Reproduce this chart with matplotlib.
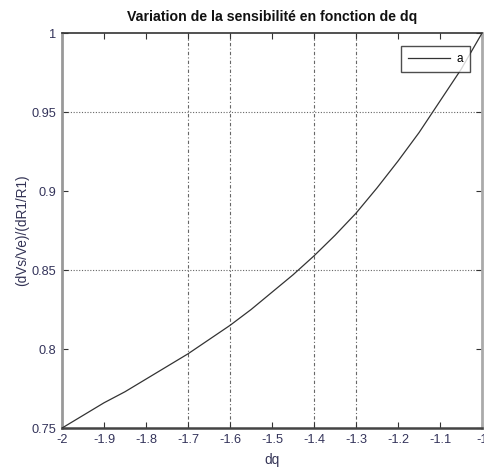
import matplotlib
matplotlib.use("Agg")
import matplotlib.pyplot as plt

dq = [-2.0, -1.95, -1.9, -1.85, -1.8, -1.75, -1.7, -1.65, -1.6, -1.55, -1.5,
      -1.45, -1.4, -1.35, -1.3, -1.25, -1.2, -1.15, -1.1, -1.05, -1.0]
sens = [0.750, 0.758, 0.766, 0.773, 0.781, 0.789, 0.797, 0.806, 0.815, 0.825, 0.836,
        0.847, 0.859, 0.872, 0.886, 0.902, 0.919, 0.937, 0.957, 0.977, 1.000]

xticks = [-2, -1.9, -1.8, -1.7, -1.6, -1.5, -1.4, -1.3, -1.2, -1.1, -1]
xticklabels = ["-2", "-1.9", "-1.8", "-1.7", "-1.6", "-1.5", "-1.4", "-1.3", "-1.2", "-1.1", "-1"]
yticks = [0.75, 0.8, 0.85, 0.9, 0.95, 1.0]
yticklabels = ["0.75", "0.8", "0.85", "0.9", "0.95", "1"]
vgrid = [-1.7, -1.6, -1.4, -1.3]
hgrid = [0.85, 0.95]

plt.rcParams['font.family'] = ['Liberation Sans', 'DejaVu Sans']

fig = plt.figure(figsize=(4.84, 4.72), dpi=100)
ax = fig.add_axes([0.128, 0.093, 0.868, 0.837])

for xv in vgrid:
    ax.axvline(xv, color='#666666', lw=0.8, ls=(0, (3, 2, 1, 2)), zorder=1)
for yv in hgrid:
    ax.axhline(yv, color='#666666', lw=0.8, ls=(0, (1, 1.5)), zorder=1)

ax.plot(dq, sens, color='#333333', lw=0.9, label='a', zorder=3)

ax.set_xlim(-2, -1)
ax.set_ylim(0.75, 1.0)
ax.set_xticks(xticks)
ax.set_xticklabels(xticklabels)
ax.set_yticks(yticks)
ax.set_yticklabels(yticklabels)
ax.tick_params(direction='in', top=True, right=True, length=4, width=0.8,
               labelsize=9.2, labelcolor='#33335a', color='#333333', pad=4)

ax.spines['left'].set_color('#999999')
ax.spines['left'].set_linewidth(2.0)
ax.spines['right'].set_color('#aaaaaa')
ax.spines['right'].set_linewidth(2.0)
ax.spines['bottom'].set_color('#444444')
ax.spines['bottom'].set_linewidth(1.8)
ax.spines['top'].set_color('#333333')
ax.spines['top'].set_linewidth(1.2)

ax.set_title('Variation de la sensibilité en fonction de dq', fontsize=10.2,
             fontweight='bold', color='#111111', pad=9)
ax.set_xlabel('dq', fontsize=9.8, color='#333355', labelpad=5)
ax.set_ylabel('(dVs/Ve)/(dR1/R1)', fontsize=9.8, color='#333355', labelpad=2)

leg = ax.legend(loc='upper right', bbox_to_anchor=(0.971, 0.967), fontsize=8.5,
                frameon=True, fancybox=False, handlelength=3.6, handletextpad=0.5,
                borderpad=0.6, borderaxespad=0.0, markerfirst=True)
leg.get_frame().set_edgecolor('#222222')
leg.get_frame().set_linewidth(1.0)

fig.savefig('out.png', dpi=100)
